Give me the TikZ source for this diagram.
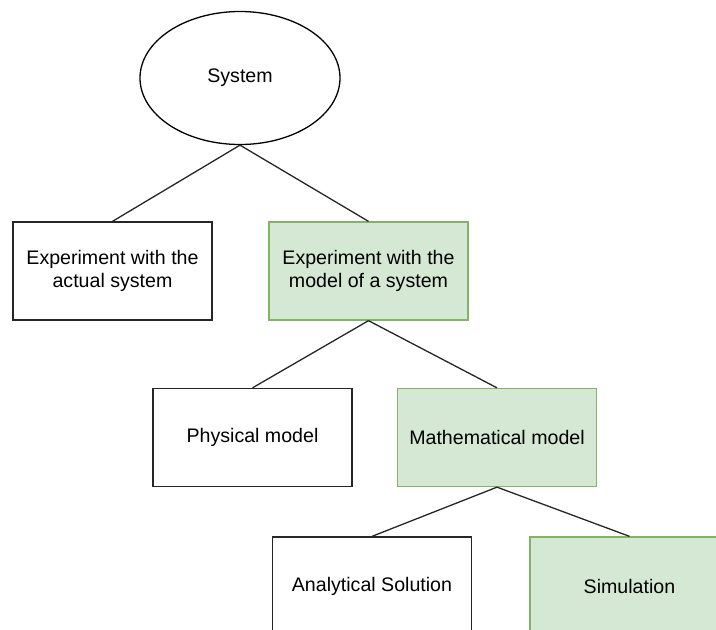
\documentclass[tikz,border=0pt]{standalone}
\usepackage{fontspec}
\setmainfont{Liberation Sans}
\usetikzlibrary{shapes.geometric}
\definecolor{leafgreen}{HTML}{D5E8D4}
\definecolor{leafedge}{HTML}{82B366}
\begin{document}
\begin{tikzpicture}[x=1pt,y=-1pt,
  every node/.style={font=\fontsize{19.6}{23}\selectfont, align=center},
  plainbox/.style={draw=black!85, line width=1.3pt, fill=white, rectangle,
    minimum width=199pt, minimum height=98pt, inner sep=0pt},
  greenbox/.style={plainbox, draw=leafedge, fill=leafgreen},
  link/.style={draw=black!85, line width=1.3pt}]
  \useasboundingbox (0,0) rectangle (716,630);
  \clip (0,0) rectangle (716,630);

  \node[ellipse, draw=black, line width=1.3pt, minimum width=200pt,
        minimum height=133pt, inner sep=0pt] (sys) at (240,78) {System};

  \node[plainbox] (exa) at (112.5,271) {Experiment with the\\actual system};
  \node[greenbox] (exm) at (368.5,271) {Experiment with the\\model of a system};

  \node[plainbox] (phy) at (252.5,437.5) {Physical model};
  \node[greenbox] (mat) at (497,437.5) {Mathematical model};

  \node[plainbox] (ana) at (372,586) {Analytical Solution};
  \node[greenbox] (sim) at (629.5,586) {Simulation};

  \draw[link] (sys.south) -- (exa.north);
  \draw[link] (sys.south) -- (exm.north);
  \draw[link] (exm.south) -- (phy.north);
  \draw[link] (exm.south) -- (mat.north);
  \draw[link] (mat.south) -- (ana.north);
  \draw[link] (mat.south) -- (sim.north);
\end{tikzpicture}
\end{document}
